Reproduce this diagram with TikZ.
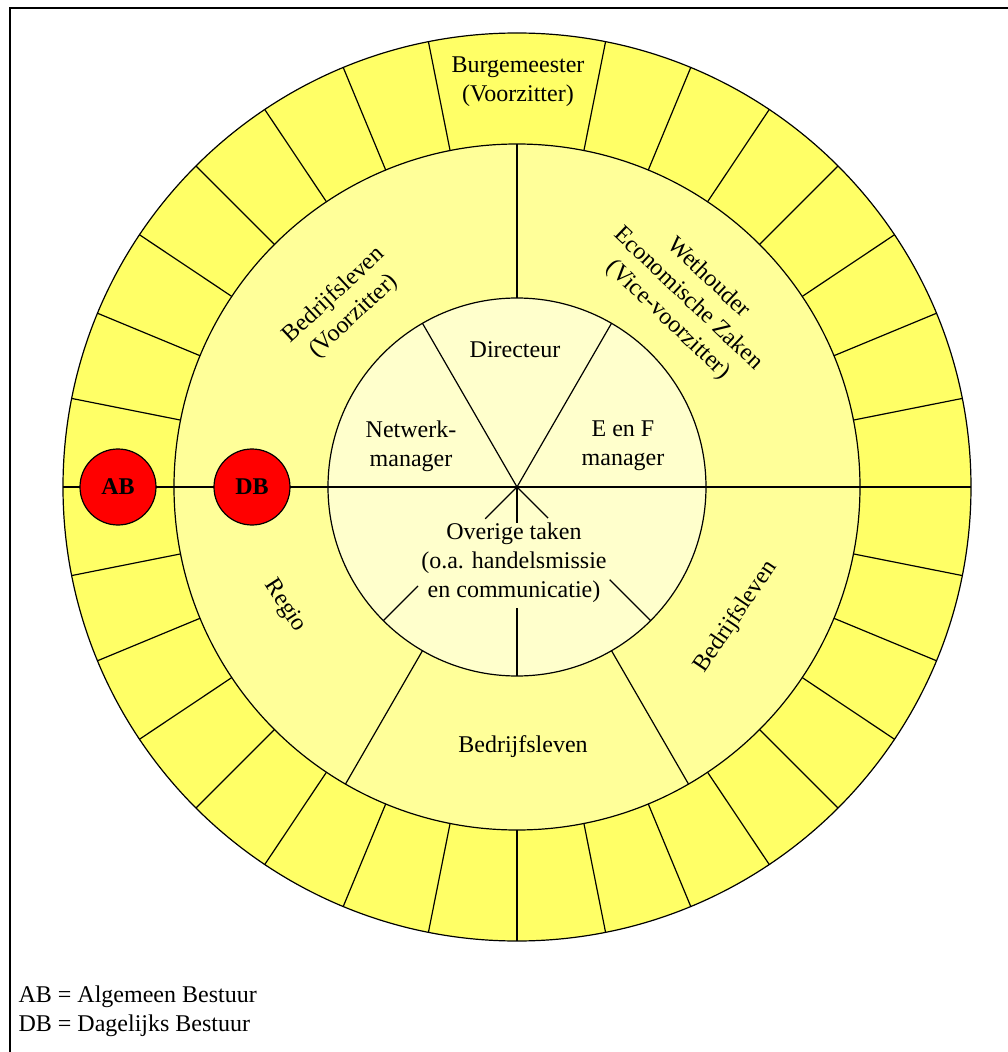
\documentclass[tikz,border=0pt]{standalone}
\usepackage{fontspec}
\setmainfont{Liberation Serif}
\definecolor{ringout}{HTML}{FFFF66}
\definecolor{ringmid}{HTML}{FFFF99}
\definecolor{ringin}{HTML}{FFFFCC}
\begin{document}
\begin{tikzpicture}[x=1pt, y=1pt, line width=1.2pt,
        every node/.style={font=\fontsize{24}{29}\selectfont, align=center},
        badge/.style={circle, fill=red, draw=black, minimum size=76pt, inner sep=0pt, font=\fontsize{24}{29}\selectfont\bfseries}]
    \useasboundingbox (-517,-565) rectangle (491,487);
    \draw[line width=1.6pt] (-507,-565) -- (-507,479) -- (491,479);
    % rings
    \fill[ringout] (0,0) circle (454);
    \fill[ringmid] (0,0) circle (343);
    \fill[ringin] (0,0) circle (189);
    \foreach \k in {1,...,31}
        \draw (90+11.25*\k:343) -- (90+11.25*\k:454);
    \draw (-454,0) -- (454,0);
    \draw (0,189) -- (0,343);
    \draw (240:189) -- (240:343);
    \draw (300:189) -- (300:343);
    \draw (0,0) -- (60:189);
    \draw (0,0) -- (120:189);
    \draw (0,0) -- (225:45);
    \draw (225:140) -- (225:189);
    \draw (0,0) -- (0,-36);
    \draw (0,-121) -- (0,-189);
    \draw (0,0) -- (315:44);
    \draw (315:131) -- (315:189);
    \draw (0,0) circle (454);
    \draw (0,0) circle (343);
    \draw (0,0) circle (189);
    % labels
    \node[] (mayor) at (1,405) {Burgemeester\\(Voorzitter)};
    \node[rotate=43] (chair) at (-173,181) {Bedrijfsleven\\(Voorzitter)};
    \node[rotate=-43.5] (alderman) at (171,188) {Wethouder\\Economische Zaken\\(Vice-voorzitter)};
    \node[rotate=-57] (region) at (-232,-119) {Regio};
    \node[rotate=56] (bizright) at (219,-130) {Bedrijfsleven};
    \node[] (bizbottom) at (6,-260) {Bedrijfsleven};
    \node[] (director) at (-2,137) {Directeur};
    \node[] (network) at (-106,41) {Netwerk-\\manager};
    \node[] (eenf) at (106,41) {E en F\\manager};
    \node[] (other) at (-3,-76) {Overige taken\\(o.a. handelsmissie\\en communicatie)};
    \node[badge] (AB) at (-399,0) {AB};
    \node[badge] (DB) at (-265,0) {DB};
    % legend
    \node[anchor=base west, inner sep=0pt] (keyAB) at (-499,-515) {AB = Algemeen Bestuur};
    \node[anchor=base west, inner sep=0pt] (keyDB) at (-499,-544) {DB = Dagelijks Bestuur};
\end{tikzpicture}
\end{document}
